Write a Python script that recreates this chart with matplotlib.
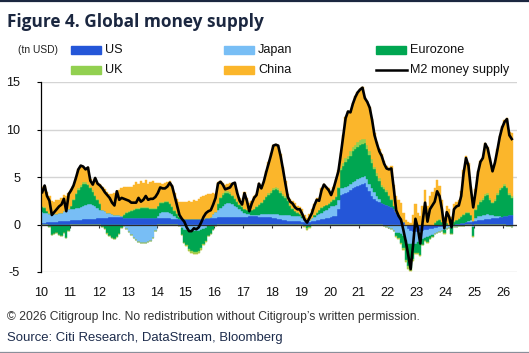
import numpy as np
import matplotlib
matplotlib.use("Agg")
import matplotlib.pyplot as plt
from matplotlib import font_manager as fm
from matplotlib.patches import Rectangle
from matplotlib.lines import Line2D

# monthly data, Jan 2010 .. Apr 2026 (tn USD)
year_labels = [str(y)[2:] for y in range(2010, 2027)]

us = [
    0.2, 0.2, 0.25, 0.25, 0.3, 0.3, 0.3, 0.35, 0.35, 0.4, 0.4, 0.4,
    0.45, 0.45, 0.5, 0.5, 0.5, 0.55, 0.55, 0.55, 0.6, 0.6, 0.6, 0.65,
    0.65, 0.7, 0.7, 0.7, 0.75, 0.75, 0.75, 0.75, 0.75, 0.75, 0.7, 0.7,
    0.7, 0.7, 0.7, 0.7, 0.7, 0.7, 0.7, 0.7, 0.7, 0.7, 0.7, 0.7,
    0.7, 0.7, 0.65, 0.65, 0.65, 0.65, 0.6, 0.6, 0.6, 0.6, 0.6, 0.6,
    0.6, 0.6, 0.6, 0.6, 0.6, 0.6, 0.6, 0.6, 0.65, 0.65, 0.65, 0.7,
    0.7, 0.75, 0.75, 0.8, 0.8, 0.8, 0.8, 0.8, 0.8, 0.8, 0.8, 0.8,
    0.8, 0.8, 0.85, 0.85, 0.85, 0.85, 0.8, 0.8, 0.8, 0.75, 0.75, 0.75,
    0.7, 0.65, 0.6, 0.55, 0.5, 0.45, 0.4, 0.4, 0.4, 0.4, 0.35, 0.35,
    0.3, 0.3, 0.3, 0.3, 0.35, 0.4, 0.45, 0.5, 0.55, 0.6, 0.65, 0.7,
    0.8, 0.85, 0.9, 1.6, 3.1, 3.2, 3.3, 3.4, 3.6, 3.8, 3.9, 4.1,
    4.2, 4.3, 4.4, 4.0, 3.5, 3.0, 2.7, 2.5, 2.4, 2.3, 2.2, 2.1,
    2.0, 1.8, 1.6, 1.3, 1.0, 0.7, 0.3, -0.2, -0.5, -0.7, -0.8, -0.8,
    -0.75, -0.7, -0.65, -0.6, -0.55, -0.5, -0.45, -0.4, -0.35, -0.3, -0.25, -0.2,
    -0.15, -0.1, -0.05, 0.0, 0.05, 0.1, 0.15, 0.2, 0.25, 0.3, 0.3, 0.35,
    0.4, 0.45, 0.5, 0.5, 0.55, 0.6, 0.6, 0.65, 0.7, 0.7, 0.75, 0.8,
    0.85, 0.9, 0.95, 1.0,
]

japan = [
    1.1, 1.0, 0.95, 0.9, 0.85, 0.85, 0.8, 0.85, 0.9, 1.0, 1.1, 1.2,
    1.15, 1.2, 1.2, 1.25, 1.3, 1.4, 1.5, 1.6, 1.55, 1.45, 1.3, 1.1,
    0.9, 0.8, 0.7, 0.55, 0.45, 0.35, 0.3, 0.25, 0.2, 0.1, -0.2, -0.5,
    -0.8, -1.1, -1.4, -1.6, -1.8, -1.9, -1.9, -1.9, -1.8, -1.7, -1.4, -0.7,
    0.2, 0.5, 0.65, 0.7, 0.7, 0.6, 0.5, 0.3, 0.1, -0.2, -0.4, -0.6,
    -0.6, -0.7, -0.7, -0.7, -0.7, -0.7, -0.6, -0.5, -0.4, -0.2, 0.1, 0.4,
    0.6, 0.8, 1.0, 1.2, 1.4, 1.5, 1.5, 1.4, 1.2, 1.0, 0.8, 0.6,
    0.4, 0.3, 0.25, 0.2, 0.2, 0.2, 0.25, 0.3, 0.35, 0.4, 0.4, 0.4,
    0.4, 0.45, 0.5, 0.5, 0.55, 0.55, 0.55, 0.55, 0.5, 0.5, 0.5, 0.5,
    0.4, 0.3, 0.2, 0.2, 0.3, 0.4, 0.5, 0.6, 0.7, 0.8, 0.9, 1.0,
    1.1, 1.1, 1.2, 1.0, 0.7, 0.65, 0.65, 0.65, 0.65, 0.7, 0.7, 0.7,
    0.7, 0.7, 0.75, 0.8, 0.8, 0.8, 0.7, 0.5, 0.3, 0.0, -0.2, -0.3,
    -0.4, -0.5, -0.7, -0.9, -0.9, -1.0, -1.2, -1.4, -1.5, -1.4, -1.3, -1.2,
    -1.1, -1.0, -0.9, -0.85, -0.8, -0.7, -0.65, -0.6, -0.55, -0.5, -0.45, -0.4,
    -0.35, -0.3, -0.3, -0.3, -0.25, -0.2, -0.2, -0.2, -0.1, 0.1, 0.2, -0.3,
    0.3, 0.4, 0.4, 0.5, 0.5, 0.5, 0.4, 0.3, 0.2, 0.2, 0.1, 0.0,
    -0.1, -0.2, -0.2, -0.3,
]

eurozone = [
    0.5, 0.5, 0.2, -0.3, -1.1, -1.0, -0.9, -1.1, -1.2, -0.9, -1.4, -0.7,
    0.3, 0.9, 1.5, 1.9, 2.2, 2.3, 2.2, 2.0, 1.7, 1.4, 1.1, 0.8,
    0.6, -0.3, -0.5, -0.9, -1.2, -1.4, -1.5, -1.3, -1.0, -0.4, 0.3, 0.5,
    0.6, 0.7, 0.8, 0.9, 0.9, 1.0, 1.0, 1.0, 1.0, 0.9, 0.9, 0.9,
    1.0, 1.1, 1.0, 1.0, 1.0, 0.9, 0.7, 0.5, 0.4, 0.2, -0.7, -1.3,
    -1.6, -1.9, -2.1, -2.2, -2.2, -2.1, -1.9, -1.6, -1.3, -1.0, -1.0, -0.6,
    -0.2, 0.6, 1.0, 1.1, 1.1, 1.0, 0.9, 0.8, 0.7, 0.6, 0.5, 0.4,
    0.4, 0.4, 0.4, 0.5, 0.6, 0.8, 1.0, 1.2, 1.4, 1.7, 2.0, 2.2,
    2.5, 2.6, 2.5, 2.3, 2.0, 1.8, 1.5, 1.0, 0.7, 0.5, 0.4, 0.3,
    0.2, -0.2, -0.4, -0.3, 0.0, 0.2, 0.3, 0.4, 0.5, 0.5, 0.5, 0.5,
    0.5, 0.6, 0.8, 1.2, 1.9, 2.3, 2.6, 2.8, 3.0, 3.2, 3.3, 3.4,
    3.5, 3.5, 3.4, 3.2, 3.0, 2.7, 2.4, 2.1, 1.9, 1.7, 1.5, 1.3,
    1.0, 0.8, 0.3, -0.3, -0.5, -0.9, -1.3, -2.1, -2.4, -2.5, -1.5, -1.0,
    -1.2, -1.5, -0.6, -0.3, -0.5, -0.3, -0.2, 0.2, 0.4, 0.5, 0.3, -0.3,
    0.2, 0.0, -0.6, 0.3, 0.4, 0.5, 0.6, 0.8, 1.0, 0.8, 0.5, -0.9,
    0.8, 1.2, 1.5, 1.6, 1.9, 2.0, 1.6, 1.3, 1.6, 2.2, 2.8, 3.0,
    3.2, 2.9, 2.2, 1.8,
]

uk = [
    0.1, 0.1, 0.05, 0.05, -0.05, -0.05, 0.0, 0.0, 0.0, 0.0, -0.05, 0.0,
    0.1, 0.1, 0.15, 0.15, 0.15, 0.2, 0.2, 0.15, 0.15, 0.15, 0.1, 0.1,
    0.1, 0.05, 0.0, -0.05, -0.05, -0.05, -0.05, 0.0, 0.0, 0.05, 0.1, 0.1,
    0.1, 0.1, 0.1, 0.1, 0.1, 0.15, 0.15, 0.15, 0.1, 0.1, 0.1, 0.1,
    0.1, 0.1, 0.1, 0.1, 0.1, 0.1, 0.1, 0.1, 0.1, 0.05, 0.0, 0.0,
    -0.1, -0.15, -0.2, -0.2, -0.2, -0.2, -0.15, -0.1, -0.1, -0.05, 0.0, 0.0,
    0.0, 0.1, 0.15, 0.2, 0.2, 0.2, 0.2, 0.15, 0.1, 0.1, 0.1, 0.1,
    0.05, 0.0, -0.05, -0.05, 0.0, 0.05, 0.1, 0.1, 0.15, 0.15, 0.2, 0.2,
    0.25, 0.25, 0.25, 0.2, 0.2, 0.2, 0.15, 0.1, 0.1, 0.05, 0.05, 0.0,
    0.0, -0.1, -0.15, -0.1, 0.0, 0.05, 0.05, 0.05, 0.05, 0.05, 0.05, 0.05,
    0.05, 0.1, 0.1, 0.2, 0.3, 0.35, 0.4, 0.4, 0.45, 0.45, 0.5, 0.5,
    0.5, 0.5, 0.45, 0.4, 0.4, 0.35, 0.3, 0.3, 0.25, 0.2, 0.2, 0.2,
    0.15, 0.1, 0.0, -0.1, -0.15, -0.2, -0.2, -0.25, -0.3, -0.3, -0.2, -0.15,
    -0.1, -0.15, -0.05, 0.0, -0.05, 0.0, 0.0, 0.05, 0.05, 0.05, 0.0, -0.05,
    0.0, 0.0, -0.1, 0.05, 0.05, 0.05, 0.1, 0.1, 0.1, 0.1, 0.05, -0.1,
    0.1, 0.15, 0.2, 0.2, 0.25, 0.25, 0.2, 0.15, 0.15, 0.2, 0.2, 0.2,
    0.25, 0.2, 0.2, 0.15,
]

china = [
    2.0, 2.3, 1.95, 1.8, 1.35, 1.25, 1.5, 1.4, 1.55, 1.7, 1.5, 1.7,
    1.7, 1.45, 1.55, 2.0, 2.05, 1.65, 1.45, 1.7, 0.8, 0.8, 1.8, 1.75,
    2.05, 2.45, 2.3, 2.15, 2.0, 2.1, 2.25, 2.5, 2.65, 2.9, 2.8, 2.6,
    2.6, 2.4, 2.6, 2.8, 2.6, 2.75, 2.55, 2.85, 2.5, 2.8, 2.9, 2.7,
    2.4, 2.0, 1.9, 1.9, 2.05, 2.35, 2.3, 1.8, 1.5, 1.55, 1.8, 1.8,
    1.8, 1.9, 1.8, 2.0, 1.9, 2.1, 2.3, 2.4, 2.45, 2.55, 2.45, 2.2,
    1.9, 2.25, 1.7, 1.1, 0.7, 0.8, 1.0, 1.15, 1.6, 1.1, 0.6, 0.5,
    1.75, 1.3, 0.8, 0.95, 1.35, 1.3, 2.25, 1.6, 1.9, 2.6, 3.25, 3.95,
    4.55, 4.55, 4.55, 3.85, 2.85, 1.6, 0.6, 0.65, 0.8, 0.85, 0.7, 0.65,
    0.7, 0.4, 0.2, 0.6, 0.95, 1.15, 1.5, 1.25, 2.0, 2.35, 1.9, 1.55,
    0.85, 1.25, 1.8, 1.7, 1.5, 2.9, 4.35, 4.75, 4.2, 4.65, 5.1, 5.3,
    5.4, 5.5, 4.4, 4.6, 4.7, 4.25, 3.5, 3.3, 3.05, 3.2, 2.8, 2.6,
    2.85, 3.5, 2.3, 1.7, 1.6, 1.6, 0.9, 0.5, 0.3, 0.2, 1.0, 2.2,
    1.2, 0.9, 2.0, 3.6, 2.0, 3.0, 3.4, 3.55, 4.25, 3.55, 2.3, 0.8,
    1.8, 1.6, 0.8, 1.85, 1.9, 1.95, 2.65, 4.6, 5.85, 5.2, 2.95, 2.15,
    2.1, 3.4, 4.1, 4.3, 5.4, 4.85, 4.2, 3.4, 3.95, 4.6, 5.45, 6.4,
    6.7, 7.2, 6.35, 6.65,
]

m2 = [
    3.4, 4.1, 3.0, 2.5, 1.0, 1.3, 1.6, 1.9, 2.1, 2.7, 1.4, 3.2,
    3.6, 4.1, 4.9, 5.8, 6.2, 6.1, 5.8, 6.0, 4.6, 4.2, 4.9, 4.3,
    4.1, 3.8, 3.4, 3.1, 2.8, 2.3, 2.0, 3.5, 2.6, 2.8, 2.7, 2.6,
    2.5, 2.3, 2.3, 2.3, 2.8, 2.4, 2.6, 3.0, 2.6, 2.7, 2.7, 2.9,
    3.3, 3.9, 3.8, 3.8, 4.0, 4.4, 4.0, 3.0, 2.0, 1.0, 0.6, 0.3,
    -0.3, -0.7, -0.7, -0.4, -0.5, -0.3, 0.2, 0.8, 1.2, 1.4, 1.5, 2.1,
    2.8, 4.3, 4.5, 4.2, 3.7, 3.8, 3.9, 4.3, 4.4, 3.3, 2.5, 2.1,
    3.3, 2.5, 1.4, 2.2, 2.8, 3.1, 4.3, 3.8, 4.5, 5.5, 6.4, 7.3,
    8.3, 8.4, 8.3, 7.2, 5.8, 4.3, 2.9, 2.4, 2.2, 1.8, 1.6, 1.6,
    1.1, 0.5, 0.2, 0.7, 1.2, 2.0, 2.6, 2.5, 3.6, 4.2, 3.9, 3.6,
    3.1, 3.8, 4.7, 5.6, 7.4, 9.3, 11.2, 11.9, 11.8, 12.7, 13.4, 13.9,
    14.2, 14.4, 13.3, 12.9, 12.3, 11.0, 9.4, 8.5, 7.7, 7.2, 6.4, 5.9,
    5.8, 5.9, 3.8, 1.5, 0.9, 0.5, -0.6, -1.8, -3.2, -4.7, -2.2, 0.6,
    -0.4, -2.0, 0.3, 2.3, 0.3, 1.6, 2.0, 2.4, 3.5, 3.0, 1.6, -0.4,
    1.3, 0.8, -0.3, 1.6, 1.9, 2.0, 3.0, 5.4, 7.0, 6.2, 3.8, 1.8,
    3.5, 5.5, 6.6, 7.0, 8.5, 8.0, 6.8, 5.6, 6.5, 7.8, 9.2, 10.2,
    10.8, 11.1, 9.4, 9.0,
]

names = ["US", "Japan", "Eurozone", "UK", "China"]
colors = ["#2456d8", "#78bef5", "#00a651", "#92d050", "#fbb62b"]

avail = {f.name for f in fm.fontManager.ttflist}
if "Liberation Sans Narrow" in avail:
    NARROW, shrink = "Liberation Sans Narrow", 1.0
else:
    NARROW, shrink = "Liberation Sans", 0.87
TITLE_FONT = "Open Sans"
NAVY = "#1b2740"

W, H = 529, 353
fig = plt.figure(figsize=(W / 100, H / 100), dpi=100)
ax = fig.add_axes([41 / W, 1 - 272 / H, (517 - 41) / W, (272 - 82) / H])

x = np.arange(len(m2)) + 0.5
pos_base = np.zeros(len(m2))
neg_base = np.zeros(len(m2))
for vals, col in zip([us, japan, eurozone, uk, china], colors):
    v = np.array(vals, dtype=float)
    p = np.clip(v, 0, None)
    q = np.clip(v, None, 0)
    ax.bar(x, p, 1.0, bottom=pos_base, color=col, lw=0.3, edgecolor=col, zorder=2)
    ax.bar(x, q, 1.0, bottom=neg_base, color=col, lw=0.3, edgecolor=col, zorder=2)
    pos_base += p
    neg_base += q

ax.plot(x, m2, color="black", lw=1.9, zorder=5, solid_joinstyle="round")
ax.axhline(0, color="#2b2b2b", lw=0.9, zorder=4)

ax.set_xlim(0, (517 - 41) / 2.408)
ax.set_ylim(-5, 15)
ax.set_yticks([-5, 0, 5, 10, 15])
ax.set_yticklabels(["-5", "0", "5", "10", "15"])
ax.yaxis.grid(True, color="#d4d4d4", lw=1.0, zorder=0)
ax.set_axisbelow(True)

tick_size = 10.5 * shrink
ax.set_xticks(np.arange(0, 12 * len(year_labels), 12))
ax.set_xticklabels(year_labels)
ax.tick_params(axis="x", length=0, pad=11, labelsize=tick_size)
ax.tick_params(axis="y", length=3, width=0.8, pad=12, labelsize=tick_size, direction="out")
for lab in ax.get_xticklabels() + ax.get_yticklabels():
    lab.set_fontfamily(NARROW)
    lab.set_color("#111111")

for s in ["top", "right", "bottom"]:
    ax.spines[s].set_visible(False)
ax.spines["left"].set_color("black")
ax.spines["left"].set_linewidth(0.9)

# year ticks sitting on the zero line
sec = ax.secondary_xaxis(0.25)
sec.set_xticks(np.arange(0, 12 * len(year_labels), 12))
sec.tick_params(axis="x", length=3, width=0.8, direction="out", labelbottom=False, color="#2b2b2b")
sec.spines["bottom"].set_visible(False)

# header
fig.add_artist(Line2D([0, 1], [1 - 0.8 / H, 1 - 0.8 / H], color=NAVY, lw=1.6, transform=fig.transFigure))
fig.text(7 / W, 1 - 22 / H, "Figure 4. Global money supply", fontsize=12.4, fontweight="bold",
         family=TITLE_FONT, color=NAVY, va="center", ha="left")
fig.text(38 / W, 1 - 50 / H, "(tn USD)", fontsize=8.5 * shrink, family=NARROW, color="#222222",
         ha="center", va="center")

leg_size = 10.5 * shrink
leg_cols = [71, 224, 376]
leg_rows = [49.7, 69.7]
order = [(0, 0), (0, 1), (0, 2), (1, 0), (1, 1)]
for (r, c), name, col in zip(order, names, colors):
    x0 = leg_cols[c]
    y0 = leg_rows[r]
    fig.add_artist(Rectangle((x0 / W, 1 - (y0 + 4) / H), 30 / W, 8 / H, color=col,
                             transform=fig.transFigure))
    fig.text((x0 + 34) / W, 1 - y0 / H, name, fontsize=leg_size, family=NARROW,
             color="#111111", va="center", ha="left")
fig.add_artist(Line2D([376 / W, 407 / W], [1 - 69.5 / H, 1 - 69.5 / H], color="black", lw=1.8,
                      transform=fig.transFigure))
fig.text(410 / W, 1 - 69.7 / H, "M2 money supply", fontsize=leg_size, family=NARROW,
         color="#111111", va="center", ha="left")

# footer
fig.text(7 / W, 1 - 317 / H, "\u00a9 2026 Citigroup Inc. No redistribution without Citigroup\u2019s written permission.",
         fontsize=10.0 * shrink, family=NARROW, color="#333333", va="center", ha="left")
fig.text(7 / W, 1 - 338 / H, "Source: Citi Research, DataStream, Bloomberg",
         fontsize=10.9 * shrink, family=NARROW, color="#1d2c4c", va="center", ha="left")
fig.add_artist(Line2D([0, 1], [1 - 351.5 / H, 1 - 351.5 / H], color="#8a8f9a", lw=0.9,
                      transform=fig.transFigure))

fig.savefig("out.png", dpi=100)
